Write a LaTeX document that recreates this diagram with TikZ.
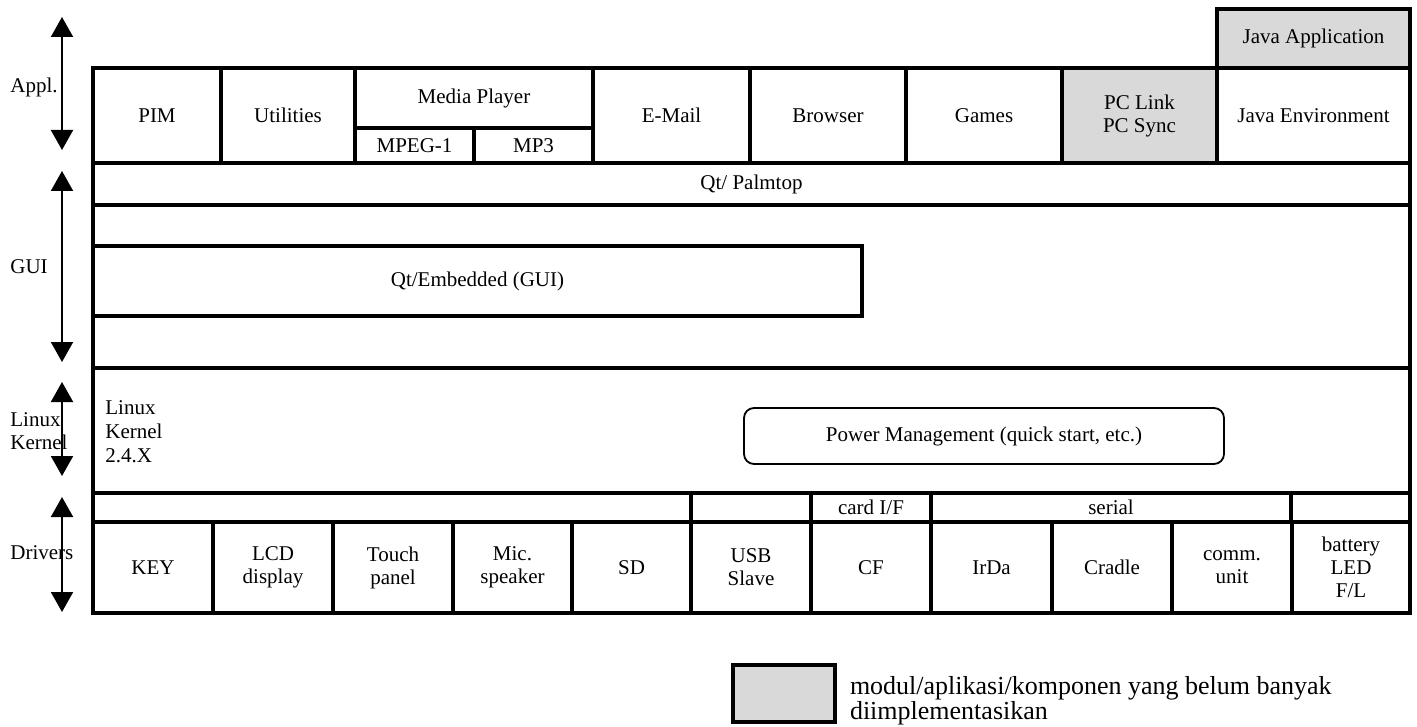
\documentclass[tikz,border=0pt]{standalone}
\usepackage{fontspec}
\setmainfont{Liberation Serif}
\usepackage{xcolor}
\usetikzlibrary{
	arrows.meta,
	positioning
}
\definecolor{NotYet}{HTML}{D9D9D9}
\newcommand{\Px}{0.5pt}
\tikzset{
	cell/.style={draw, line width=1.6pt, inner sep=1pt, align=center,
		font=\fontsize{10.5}{11.5}\selectfont},
	greycell/.style={cell, fill=NotYet},
	sidelabel/.style={anchor=west, inner sep=0pt, align=left,
		font=\fontsize{10.5}{11.5}\selectfont},
	layer/.style={{Triangle[width=11pt,length=10pt]}-{Triangle[width=11pt,length=10pt]}, line width=1pt}
}

\begin{document}
\begin{tikzpicture}
	[x=\Px, y=-\Px]
	\useasboundingbox (0,0) rectangle (1417,727);

	% application layer
	\begin{scope}
		\newcommand{\RowY}{115.5}
		\foreach \Name/\XA/\XB/\Text in {pim/93/221/PIM, util/221/355/Utilities,
			email/593/750/E-Mail, browser/750/906/Browser, games/906/1062/Games,
			javaenv/1217/1410/Java Environment} {
			\node[cell, minimum width={(\XB-\XA)*\Px}, minimum height={95*\Px}]
				(\Name) at ({(\XA+\XB)/2}, \RowY) {\Text};
		}
		\node[greycell, minimum width={155*\Px}, minimum height={95*\Px}]
			(pclink) at (1139.5, \RowY) {PC Link\\PC Sync};
		\node[greycell, minimum width={193*\Px}, minimum height={59*\Px}]
			(javaapp) at (1313.5, 38.5) {Java Application};

		% media player and its two parts
		\node[cell, minimum width={238*\Px}, minimum height={60*\Px}]
			(media) at (474, 98) {Media Player};
		\foreach \Name/\XA/\XB/\Text in {mpeg/355/474/MPEG-1, mpthree/474/593/MP3} {
			\node[cell, minimum width={(\XB-\XA)*\Px}, minimum height={35*\Px}]
				(\Name) at ({(\XA+\XB)/2}, 145.5) {\Text};
		}
	\end{scope}

	% GUI layer
	\begin{scope}
		\node[cell, minimum width={1317*\Px}, minimum height={42*\Px}]
			(palmtop) at (751.5, 184) {Qt/ Palmtop};
		\node[cell, minimum width={1317*\Px}, minimum height={163*\Px}]
			(gui) at (751.5, 286.5) {};
		\node[cell, minimum width={769*\Px}, minimum height={70*\Px}]
			(embedded) at (477.5, 281) {Qt/Embedded (GUI)};
	\end{scope}

	% kernel layer
	\begin{scope}
		\node[cell, minimum width={1317*\Px}, minimum height={125*\Px}]
			(kernel) at (751.5, 430.5) {};
		\node[sidelabel, font=\fontsize{10.5}{12}\selectfont]
			(kerneltxt) at (105, 432) {Linux\\Kernel\\2.4.X};
		\node[cell, line width=0.9pt, rounded corners=5pt,
			minimum width={480*\Px}, minimum height={56*\Px}]
			(power) at (984, 436) {Power Management (quick start, etc.)};
	\end{scope}

	% drivers layer
	\begin{scope}
		% bus row
		\foreach \Name/\XA/\XB/\Text in {busa/93/691/, busb/691/811/,
			cardif/811/931/{card I/F}, serial/931/1291/serial, busc/1291/1410/} {
			\node[cell, minimum width={(\XB-\XA)*\Px}, minimum height={29*\Px}]
				(\Name) at ({(\XA+\XB)/2}, 507.5) {\Text};
		}
		% driver row
		\foreach \Name/\XA/\XB/\Text in {key/93/213/KEY, lcd/213/333/{LCD\\display},
			touch/333/453/{Touch\\panel}, mic/453/572/{Mic.\\speaker}, sd/572/691/SD,
			usb/691/811/{USB\\Slave}, cf/811/931/CF, irda/931/1052/IrDa,
			cradle/1052/1172/Cradle, comm/1172/1292/{comm.\\unit},
			battery/1292/1410/{battery\\LED\\F/L}} {
			\node[cell, minimum width={(\XB-\XA)*\Px}, minimum height={91*\Px}]
				(\Name) at ({(\XA+\XB)/2}, 567.5) {\Text};
		}
	\end{scope}

	% layer labels and arrows
	\begin{scope}
		\node[sidelabel] (appllbl) at (10, 87) {Appl.};
		\node[sidelabel] (guilbl) at (10, 267) {GUI};
		\node[sidelabel] (kernlbl) at (10, 431) {Linux\\Kernel};
		\node[sidelabel] (drvlbl) at (10, 553) {Drivers};

		\foreach \Name/\YA/\YB in {appl/17/150, gui/171/362, kern/382/476, drv/497/612} {
			\coordinate (\Name top) at (62, \YA);
			\coordinate (\Name bot) at (62, \YB);
			\draw[layer] (\Name top) -- (\Name bot);
		}
	\end{scope}

	% legend
	\begin{scope}
		\node[greycell, minimum width={102*\Px}, minimum height={57*\Px}]
			(legend) at (784, 693.5) {};
		\node[sidelabel, right=6.5pt of legend, yshift=-3.5pt, font=\fontsize{13}{12.5}\selectfont]
			(legendtxt) {modul/aplikasi/komponen yang belum banyak\\diimplementasikan};
	\end{scope}

\end{tikzpicture}
\end{document}
